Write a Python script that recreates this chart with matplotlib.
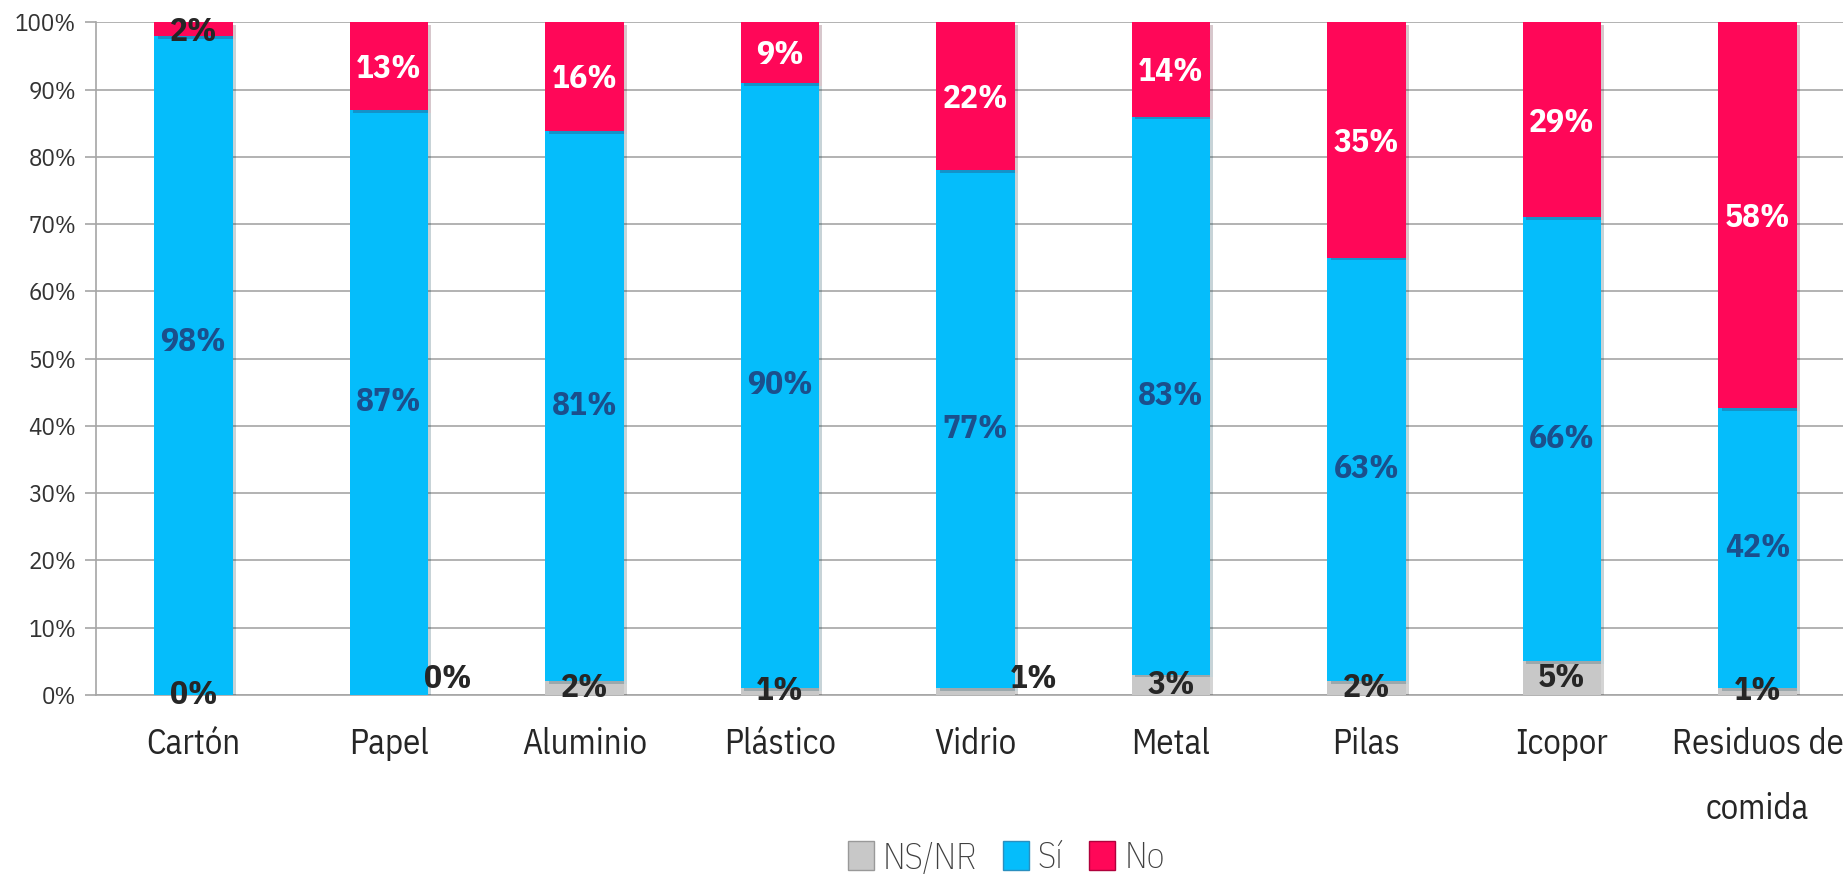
import matplotlib

matplotlib.use("Agg")
import matplotlib.pyplot as plt
import matplotlib.patheffects as pe
from matplotlib.patches import Patch
import numpy as np


categories = ["Cartón", "Papel", "Aluminio", "Plástico", "Vidrio",
              "Metal", "Pilas", "Icopor", "Residuos de\ncomida"]
ns_nr = [0, 0, 2, 1, 1, 3, 2, 5, 1]
si = [98, 87, 81, 90, 77, 83, 63, 66, 42]
no = [2, 13, 16, 9, 22, 14, 35, 29, 58]
y_ticks = [0, 10, 20, 30, 40, 50, 60, 70, 80, 90, 100]

# labels that were moved by hand in the original chart
ns_label_beside = {"Papel", "Vidrio"}
si_label_shift = {"Cartón": 3.5}

GREY = "#C8C8C8"
BLUE = "#05BDFB"
PINK = "#FF0758"
DARK = "#262626"
SI_TEXT = "#1B4F8C"

plt.rcParams["font.family"] = ["IBM Plex Sans Condensed", "DejaVu Sans"]


def main():
    fig = plt.figure(figsize=(18.43, 8.74), dpi=100)
    ax = fig.add_axes([0.0519, 0.2051, 0.9547, 0.7693])

    x = np.arange(len(categories))
    ns_arr = np.array(ns_nr, dtype=float)
    si_arr = np.array(si, dtype=float)
    no_arr = np.array(no, dtype=float)
    total = ns_arr + si_arr + no_arr
    # 100% stacked: scale each column to its total
    ns_h = ns_arr / total * 100
    si_h = si_arr / total * 100
    no_h = no_arr / total * 100

    shadow = [pe.SimplePatchShadow(offset=(2.5, -2), alpha=0.22), pe.Normal()]
    width = 0.4
    for heights, bottoms, color in (
        (ns_h, np.zeros_like(ns_h), GREY),
        (si_h, ns_h, BLUE),
        (no_h, ns_h + si_h, PINK),
    ):
        bars = ax.bar(x, heights, width, bottom=bottoms, color=color,
                      edgecolor="none", zorder=3)
        for bar in bars:
            bar.set_path_effects(shadow)

    label_kw = dict(ha="center", va="center", fontsize=24, fontweight="bold",
                    zorder=5)
    for i, cat in enumerate(categories):
        # NS/NR
        if cat in ns_label_beside:
            ax.text(x[i] + width / 2 + 0.1, 2.3, f"{ns_nr[i]}%", color=DARK,
                    **label_kw)
        else:
            ax.text(x[i], ns_h[i] / 2, f"{ns_nr[i]}%", color=DARK, **label_kw)
        # Sí
        ax.text(x[i], ns_h[i] + si_h[i] / 2 + si_label_shift.get(cat, 0),
                f"{si[i]}%", color=SI_TEXT, **label_kw)
        # No
        no_color = DARK if no[i] < 5 else "white"
        ax.text(x[i], ns_h[i] + si_h[i] + no_h[i] / 2 - 0.4, f"{no[i]}%",
                color=no_color, **label_kw)

    ax.set_xlim(-0.5, 8.5)
    ax.set_ylim(0, 100)
    ax.set_yticks(y_ticks)
    ax.set_yticklabels([f"{t}%" for t in y_ticks], fontsize=18, color="#333333")
    ax.set_xticks(x)
    ax.set_xticklabels(categories, fontsize=25, color=DARK, linespacing=2.15)
    ax.tick_params(axis="x", length=0, pad=23)
    ax.tick_params(axis="y", length=8, color="#A6A6A6", width=1.2, pad=6)
    ax.yaxis.grid(True, color="#A6A6A6", linewidth=1.2, zorder=0)
    ax.set_axisbelow(True)
    for side in ("top", "right"):
        ax.spines[side].set_visible(False)
    for side in ("left", "bottom"):
        ax.spines[side].set_color("#A6A6A6")
        ax.spines[side].set_linewidth(1.2)

    handles = [Patch(facecolor=GREY, edgecolor="#999999", label="NS/NR"),
               Patch(facecolor=BLUE, edgecolor="#2A8FBF", label="Sí"),
               Patch(facecolor=PINK, edgecolor="#B0003C", label="No")]
    fig.legend(handles=handles, loc="center", bbox_to_anchor=(0.546, 0.018),
               ncol=3, frameon=False, handlelength=0.72,
               handleheight=0.85, handletextpad=0.25, columnspacing=0.7,
               labelcolor="#404040",
               prop={"family": "IBM Plex Sans Condensed", "size": 26,
                     "weight": "light"})

    fig.savefig("out.png", dpi=100)
    plt.close(fig)


if __name__ == "__main__":
    main()
